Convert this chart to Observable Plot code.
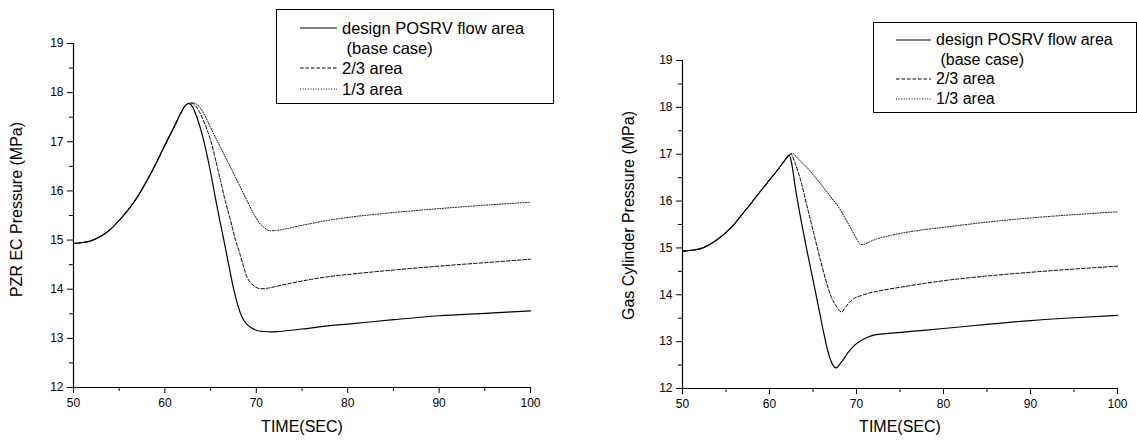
<!DOCTYPE html>
<html><head><meta charset="utf-8">
<script src="https://cdn.jsdelivr.net/npm/d3@7"></script>
<script src="https://cdn.jsdelivr.net/npm/@observablehq/plot@0.6"></script>
<style>
html,body{margin:0;padding:0;background:#fff;}
#wrap{position:relative;width:1137px;height:445px;overflow:hidden;font-family:"Liberation Sans",Arial,sans-serif;}
.panel{position:absolute;top:0;}
.legend{position:absolute;border:1px solid #000;box-sizing:border-box;background:#fff;font-size:16px;color:#000;}
.legend .row{position:absolute;left:0;height:20px;line-height:20px;white-space:pre;}
.legend svg{position:absolute;overflow:visible;}
</style></head><body><div id="wrap"></div>
<script>
// ---------- data ----------
const seriesNames = ["design POSRV flow area (base case)", "2/3 area", "1/3 area"];
const legendLines = ["design POSRV flow area", " (base case)", "2/3 area", "1/3 area"];
const xMajor = [50, 60, 70, 80, 90, 100];
const xMinor = [55, 65, 75, 85, 95];
const yMajor = [12, 13, 14, 15, 16, 17, 18, 19];
const yMinor = [12.5, 13.5, 14.5, 15.5, 16.5, 17.5, 18.5];
const leftYLabel = "PZR EC Pressure (MPa)";
const rightYLabel = "Gas Cylinder Pressure (MPa)";
const xLabel = "TIME(SEC)";

// left panel: PZR EC pressure
const leftRise = [[50,14.93],[51,14.95],[52,14.99],[53,15.08],[54,15.21],[55,15.4],[56,15.62],[57,15.88],[58,16.2],[59,16.55],[60,16.93],[61,17.3],[61.7,17.57],[62.2,17.73],[62.6,17.78]];
const leftBase = [[63.0,17.72],[63.5,17.5],[64.0,17.2],[64.5,16.82],[65.0,16.38],[65.5,15.88],[66.0,15.4],[66.45,15.0],[67.0,14.48],[67.55,13.98],[68.0,13.66],[68.4,13.45],[68.9,13.3],[69.4,13.22],[70.1,13.16],[70.8,13.14],[71.6,13.13],[72.5,13.14],[75,13.19],[78.1,13.26],[80,13.29],[85,13.38],[90,13.46],[95,13.51],[100,13.56]];
const leftTwoThird = [[62.9,17.79],[63.3,17.74],[63.8,17.6],[64.4,17.35],[65.0,17.03],[65.5,16.67],[66.08,16.21],[66.6,15.8],[67.18,15.4],[67.7,15.02],[68.27,14.68],[68.7,14.4],[69.0,14.24],[69.4,14.13],[69.8,14.06],[70.46,14.01],[71.2,14.02],[72,14.05],[74,14.13],[76,14.2],[78.1,14.26],[80,14.3],[85,14.39],[90,14.47],[95,14.54],[100,14.61]];
const leftOneThird = [[63.0,17.79],[63.5,17.76],[64.26,17.57],[65.1,17.25],[66.08,16.89],[67.0,16.55],[67.9,16.21],[68.8,15.87],[69.73,15.53],[70.3,15.36],[70.82,15.26],[71.55,15.19],[72.3,15.2],[75,15.3],[78.1,15.41],[80,15.46],[85,15.56],[90,15.64],[95,15.71],[100,15.77]];

// right panel: gas cylinder pressure
const rightRise = [[50,14.93],[51,14.95],[52,14.98],[53,15.06],[54,15.18],[55,15.33],[56,15.52],[57,15.75],[58,15.98],[59,16.22],[60,16.45],[61,16.68],[61.8,16.88],[62.25,16.98]];
const rightBase = [[62.5,16.85],[63.0,16.25],[63.6,15.62],[64.3,14.95],[65.1,14.23],[65.7,13.68],[66.25,13.17],[66.7,12.8],[67.1,12.57],[67.45,12.46],[67.7,12.44],[68.0,12.5],[68.5,12.62],[69,12.76],[69.7,12.91],[70.5,13.02],[71.2,13.09],[72,13.14],[74,13.18],[77,13.23],[80,13.28],[85,13.37],[90,13.45],[95,13.51],[100,13.56]];
const rightTwoThird = [[62.45,17.0],[63.0,16.78],[63.6,16.43],[64.3,15.9],[65.1,15.3],[65.8,14.78],[66.6,14.23],[67.1,13.95],[67.6,13.78],[68.0,13.67],[68.3,13.63],[68.6,13.7],[69.3,13.86],[70,13.95],[70.5,13.98],[71.5,14.04],[72.8,14.09],[75,14.16],[77.4,14.23],[80,14.3],[85,14.4],[90,14.48],[95,14.55],[100,14.61]];
const rightOneThird = [[62.6,17.02],[63.3,16.9],[64.3,16.72],[65.3,16.5],[66.2,16.29],[67.2,16.05],[68.2,15.8],[68.8,15.6],[69.5,15.37],[70.0,15.2],[70.5,15.07],[70.9,15.08],[71.5,15.13],[72,15.17],[74,15.27],[77.4,15.38],[80,15.44],[85,15.55],[90,15.64],[95,15.71],[100,15.77]];

// ---------- styles ----------
const dashes = [null, "3.5,2", "1,1.6"];
const widths = [1.2, 1, 1];
const font = "Liberation Sans, Arial, sans-serif";

function toRows(rise, tail, name) {
  return rise.concat(tail).map(([t, p]) => ({t, p, s: name}));
}

function panel(cfg) {
  const lines = cfg.series.map((rows, i) => Plot.line(rows, {
    x: "t", y: "p", curve: "monotone-x", stroke: "#000",
    strokeWidth: widths[i], strokeDasharray: dashes[i]
  }));
  return Plot.plot({
    width: cfg.width, height: 445,
    marginLeft: cfg.ml, marginRight: cfg.mr, marginTop: cfg.mt, marginBottom: cfg.mb,
    style: {fontFamily: font, fontSize: "12px", color: "#000", background: "transparent", overflow: "visible"},
    x: {domain: [50, 100]},
    y: {domain: [12, 19]},
    marks: [
      Plot.axisX(xMajor, {tickSize: 6, tickPadding: 5, fontSize: 12, label: null, strokeOpacity: 1}),
      Plot.axisX(xMinor, {tickSize: 4, tickFormat: () => "", label: null, strokeOpacity: 1}),
      Plot.axisY(yMajor, {tickSize: 6, tickPadding: 4, fontSize: 12, label: null, strokeOpacity: 1}),
      Plot.axisY(yMinor, {tickSize: 4, tickFormat: () => "", label: null, strokeOpacity: 1}),
      Plot.ruleX([50], {stroke: "#000", strokeWidth: 1.2}),
      Plot.ruleY([12], {stroke: "#000", strokeWidth: 1.2}),
      Plot.text([xLabel], {frameAnchor: "bottom", textAnchor: "middle", dy: cfg.xdy, fontSize: 16, fill: "#000"}),
      Plot.text([cfg.ylabel], {frameAnchor: "left", textAnchor: "middle", rotate: -90, dx: cfg.ydx, dy: cfg.ydy, fontSize: 16, fill: "#000"}),
      ...lines
    ]
  });
}

function legend(cfg) {
  const box = document.createElement("div");
  box.className = "legend";
  Object.assign(box.style, {left: cfg.left + "px", top: cfg.top + "px", width: cfg.width + "px", height: cfg.height + "px"});
  const sampleFor = [0, null, 1, 2];
  legendLines.forEach((txt, i) => {
    const row = document.createElement("div");
    row.className = "row";
    row.style.top = (cfg.rowTop + i * cfg.rowStep - 10) + "px";
    row.style.left = cfg.textX + "px";
    row.style.fontSize = cfg.fontSize + "px";
    row.textContent = txt;
    box.appendChild(row);
    const si = sampleFor[i];
    if (si !== null) {
      const svg = document.createElementNS("http://www.w3.org/2000/svg", "svg");
      svg.setAttribute("width", cfg.lineX2 - cfg.lineX1);
      svg.setAttribute("height", 4);
      svg.style.left = cfg.lineX1 + "px";
      svg.style.top = (cfg.rowTop + i * cfg.rowStep - 2) + "px";
      const ln = document.createElementNS("http://www.w3.org/2000/svg", "line");
      ln.setAttribute("x1", 0); ln.setAttribute("x2", cfg.lineX2 - cfg.lineX1);
      ln.setAttribute("y1", 2); ln.setAttribute("y2", 2);
      ln.setAttribute("stroke", "#000");
      ln.setAttribute("stroke-width", widths[si]);
      if (dashes[si]) ln.setAttribute("stroke-dasharray", dashes[si]);
      svg.appendChild(ln);
      box.appendChild(svg);
    }
  });
  return box;
}

const wrap = document.getElementById("wrap");

const left = panel({
  width: 568, ml: 73, mr: 38, mt: 43, mb: 58, xdy: 44, ydx: -57, ydy: -6, ylabel: leftYLabel,
  series: [toRows(leftRise, leftBase, seriesNames[0]), toRows(leftRise, leftTwoThird, seriesNames[1]), toRows(leftRise, leftOneThird, seriesNames[2])]
});
left.classList.add("panel");
left.style.left = "0px";
wrap.appendChild(left);

const right = panel({
  width: 569, ml: 114, mr: 20, mt: 60, mb: 57, xdy: 43, ydx: -54, ydy: -9, ylabel: rightYLabel,
  series: [toRows(rightRise, rightBase, seriesNames[0]), toRows(rightRise, rightTwoThird, seriesNames[1]), toRows(rightRise, rightOneThird, seriesNames[2])]
});
right.classList.add("panel");
right.style.left = "568px";
wrap.appendChild(right);

wrap.appendChild(legend({left: 276, top: 9, width: 278, height: 95, rowTop: 17.5, rowStep: 20.4, lineX1: 23, lineX2: 60, textX: 65, fontSize: 16.5}));
wrap.appendChild(legend({left: 873, top: 22, width: 264, height: 91, rowTop: 17, rowStep: 19.5, lineX1: 22, lineX2: 57, textX: 62, fontSize: 16}));
</script></body></html>
